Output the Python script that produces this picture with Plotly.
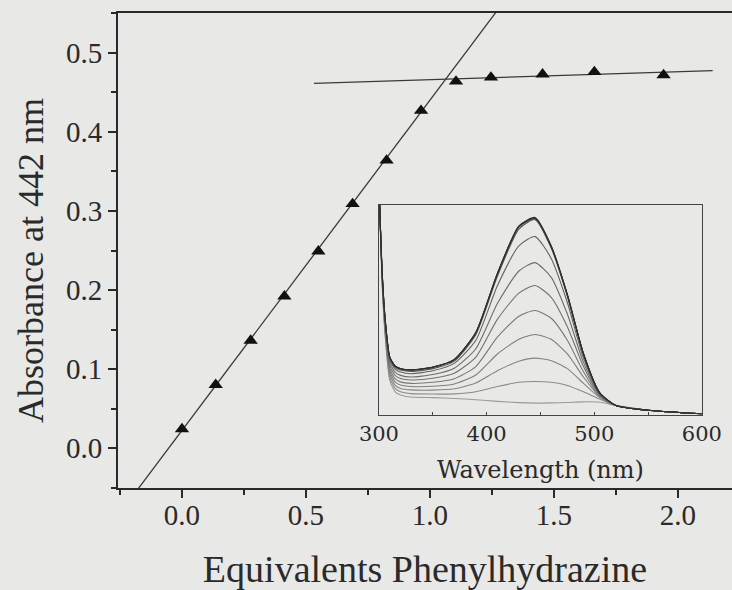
import plotly.graph_objects as go

# ---------------- data ----------------
equiv = [0.0, 0.136, 0.277, 0.413, 0.550, 0.688, 0.825, 0.964, 1.105, 1.246, 1.454, 1.663, 1.942]
absorb_442 = [0.024, 0.080, 0.136, 0.192, 0.249, 0.309, 0.364, 0.427, 0.464, 0.469, 0.473, 0.476, 0.472]

# linear fits drawn on the main plot: slope, intercept, x-span
fit_rise = {"slope": 0.418, "intercept": 0.0223, "x": [-0.30, 1.40]}
fit_plateau = {"slope": 0.00995, "intercept": 0.4563, "x": [0.532, 2.14]}

# inset spectra (relative absorbance vs wavelength)
wavelength = [300, 303, 306, 310, 315, 320, 330, 350, 370, 390, 410, 430, 445, 460, 475, 490, 505, 520, 550, 600]
spectra = [
    [1.10, 0.62, 0.36, 0.165, 0.110, 0.095, 0.085, 0.082, 0.078, 0.072, 0.064, 0.058, 0.056, 0.057, 0.059, 0.062, 0.060, 0.045, 0.022, 0.005],
    [1.10, 0.63, 0.37, 0.180, 0.126, 0.110, 0.101, 0.099, 0.100, 0.110, 0.135, 0.155, 0.159, 0.155, 0.140, 0.110, 0.075, 0.045, 0.022, 0.005],
    [1.10, 0.64, 0.38, 0.195, 0.142, 0.126, 0.119, 0.118, 0.124, 0.152, 0.210, 0.255, 0.270, 0.258, 0.220, 0.150, 0.082, 0.045, 0.022, 0.005],
    [1.10, 0.645, 0.39, 0.208, 0.157, 0.142, 0.135, 0.136, 0.147, 0.190, 0.290, 0.360, 0.383, 0.360, 0.290, 0.180, 0.087, 0.045, 0.022, 0.005],
    [1.10, 0.65, 0.40, 0.222, 0.172, 0.157, 0.150, 0.155, 0.172, 0.230, 0.370, 0.470, 0.497, 0.460, 0.355, 0.205, 0.090, 0.045, 0.022, 0.005],
    [1.10, 0.655, 0.41, 0.236, 0.188, 0.173, 0.166, 0.174, 0.198, 0.275, 0.455, 0.580, 0.616, 0.560, 0.420, 0.230, 0.094, 0.045, 0.022, 0.005],
    [1.10, 0.66, 0.42, 0.250, 0.203, 0.188, 0.180, 0.192, 0.222, 0.315, 0.530, 0.685, 0.725, 0.655, 0.480, 0.250, 0.097, 0.045, 0.022, 0.005],
    [1.10, 0.665, 0.43, 0.262, 0.218, 0.204, 0.196, 0.210, 0.245, 0.355, 0.615, 0.805, 0.849, 0.745, 0.535, 0.270, 0.100, 0.045, 0.022, 0.005],
    [1.10, 0.67, 0.435, 0.270, 0.226, 0.214, 0.207, 0.220, 0.256, 0.382, 0.660, 0.885, 0.930, 0.795, 0.565, 0.285, 0.104, 0.045, 0.022, 0.005],
    [1.10, 0.675, 0.44, 0.274, 0.231, 0.219, 0.213, 0.226, 0.262, 0.390, 0.670, 0.895, 0.935, 0.800, 0.570, 0.290, 0.105, 0.045, 0.022, 0.005],
    [1.10, 0.675, 0.44, 0.275, 0.232, 0.220, 0.214, 0.227, 0.263, 0.392, 0.672, 0.898, 0.938, 0.803, 0.572, 0.291, 0.105, 0.045, 0.022, 0.005],
    [1.10, 0.68, 0.445, 0.276, 0.233, 0.221, 0.215, 0.228, 0.264, 0.393, 0.674, 0.900, 0.940, 0.805, 0.574, 0.292, 0.106, 0.045, 0.022, 0.005],
    [1.10, 0.675, 0.44, 0.275, 0.232, 0.220, 0.214, 0.227, 0.263, 0.391, 0.671, 0.897, 0.936, 0.801, 0.571, 0.290, 0.105, 0.045, 0.022, 0.005],
]
spectra_colors = ["#9a9a9a", "#8a8a8a", "#848484", "#7e7e7e", "#787878", "#727272",
                  "#6c6c6c", "#626262", "#555555", "#4a4a4a", "#404040", "#383838", "#303030"]

main_x_ticks = [0.0, 0.5, 1.0, 1.5, 2.0]
main_y_ticks = [0.0, 0.1, 0.2, 0.3, 0.4, 0.5]
inset_x_ticks = [300, 400, 500, 600]

x_title = "Equivalents Phenylhydrazine"
y_title = "Absorbance at 442 nm"
inset_title = "Wavelength (nm)"

# ---------------- figure ----------------
BG = "#e8e8e6"
INK = "#2a2a2a"
SERIF = "Liberation Serif"

fig = go.Figure()

for fit in (fit_rise, fit_plateau):
    xs = fit["x"]
    ys = [fit["slope"] * v + fit["intercept"] for v in xs]
    fig.add_trace(go.Scatter(x=xs, y=ys, mode="lines",
                             line=dict(color="#3a3a3a", width=1.3),
                             showlegend=False, hoverinfo="skip",
                             xaxis="x", yaxis="y"))

fig.add_trace(go.Scatter(x=equiv, y=absorb_442, mode="markers",
                         marker=dict(symbol="triangle-up", size=12.5, color="#111111"),
                         showlegend=False, xaxis="x", yaxis="y"))

for vals, col in zip(spectra, spectra_colors):
    fig.add_trace(go.Scatter(x=wavelength, y=vals, mode="lines",
                             line=dict(color=col, width=1.1, shape="spline", smoothing=0.6),
                             showlegend=False, hoverinfo="skip",
                             xaxis="x2", yaxis="y2"))

fig.update_layout(
    template="none",
    width=732, height=590,
    margin=dict(l=118, r=0, t=13, b=102, autoexpand=False),
    paper_bgcolor=BG, plot_bgcolor=BG,
    font=dict(family=SERIF, color=INK),
    showlegend=False,
    xaxis=dict(
        range=[-0.258, 2.218], domain=[0, 1], anchor="y", automargin=False,
        tickvals=main_x_ticks, ticktext=[f"{v:.1f}" for v in main_x_ticks],
        ticks="outside", ticklen=8, tickwidth=1.5, tickcolor=INK,
        minor=dict(dtick=0.25, tick0=0, ticks="outside", ticklen=5, tickwidth=1.5, tickcolor=INK, showgrid=False),
        showline=True, linecolor=INK, linewidth=2, mirror=True,
        showgrid=False, zeroline=False, ticklabelstandoff=-8,
        tickfont=dict(family=SERIF, size=29, color=INK),
        title=dict(text=x_title, font=dict(family=SERIF, size=38, color=INK), standoff=28),
    ),
    yaxis=dict(
        range=[-0.0506, 0.5506], domain=[0, 1], anchor="x", automargin=False,
        tickvals=main_y_ticks, ticktext=[f"{v:.1f}" for v in main_y_ticks],
        ticks="outside", ticklen=8, tickwidth=1.5, tickcolor=INK,
        minor=dict(dtick=0.05, tick0=0, ticks="outside", ticklen=5, tickwidth=1.5, tickcolor=INK, showgrid=False),
        showline=True, linecolor=INK, linewidth=2, mirror=False,
        showgrid=False, zeroline=False,
        tickfont=dict(family=SERIF, size=29, color=INK),
    ),
    xaxis2=dict(
        range=[300, 600], domain=[0.425, 0.951], anchor="y2", automargin=False,
        tickvals=inset_x_ticks, ticktext=[str(v) for v in inset_x_ticks],
        ticks="inside", ticklen=3, tickwidth=1, tickcolor="#444444",
        minor=dict(dtick=50, tick0=300, ticks="inside", ticklen=3, tickwidth=1, tickcolor="#444444", showgrid=False),
        showline=True, linecolor="#444444", linewidth=1.2, mirror=True,
        showgrid=False, zeroline=False,
        tickfont=dict(family="DejaVu Serif", size=21, color=INK),
        title=dict(text=inset_title, font=dict(family="DejaVu Serif", size=24, color=INK), standoff=16),
    ),
    yaxis2=dict(
        range=[0, 1], domain=[0.154, 0.596], anchor="x2", automargin=False,
        showticklabels=False, ticks="",
        showline=True, linecolor="#444444", linewidth=1.2, mirror=True,
        showgrid=False, zeroline=False,
    ),
    annotations=[dict(
        text=y_title, textangle=-90, showarrow=False,
        xref="paper", yref="paper", x=0, y=0.478,
        xanchor="center", yanchor="middle", xshift=-87,
        font=dict(family=SERIF, size=36, color=INK),
    )],
)

fig.write_html("out.html")
